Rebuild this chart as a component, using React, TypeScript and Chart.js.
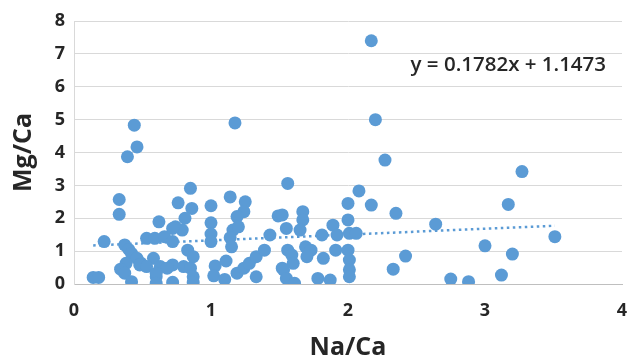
import React, { useEffect, useRef } from "react";
import { Chart, registerables } from "chart.js";

Chart.register(...registerables);

// Na/Ca (x) values
const naCa: number[] = [
  0.14, 0.18, 0.22, 0.33, 0.33, 0.39, 0.46, 0.44,
  0.37, 0.40, 0.42, 0.46, 0.38, 0.34, 0.37, 0.42, 0.49, 0.48,
  0.53, 0.59, 0.66, 0.72, 0.62, 0.76, 0.85, 0.86, 0.81, 0.74, 0.79, 0.72,
  0.83, 0.87, 0.58, 0.53, 0.63, 0.72, 0.80, 0.85, 0.68,
  0.60, 0.60, 0.72, 0.60, 0.87, 0.87,
  1.00, 1.00, 1.00, 1.00, 1.03, 1.02, 1.10,
  1.14, 1.25, 1.24, 1.19, 1.175, 1.16, 1.20, 1.14, 1.15, 1.11, 1.19, 1.24, 1.28, 1.33, 1.39, 1.43, 1.49, 1.33, 1.52, 1.56, 1.56, 1.55, 1.52,
  1.67, 1.67, 1.65, 1.89, 2.00, 1.81, 1.92, 2.01, 1.59, 1.69, 1.73, 1.82, 1.91, 2.00, 2.01, 2.01, 2.01, 1.70, 1.60, 1.53, 1.55, 1.61, 1.78, 1.87, 2.08, 2.00, 2.06,
  2.17, 2.20, 2.27, 2.17, 2.35, 2.42, 2.33, 2.64, 2.75, 2.88, 3.00, 3.12, 3.17, 3.20, 3.27, 3.51,
];

// Mg/Ca (y) values
const mgCa: number[] = [
  0.20, 0.20, 1.29, 2.57, 2.12, 3.87, 4.17, 4.83,
  1.19, 1.05, 0.93, 0.78, 0.63, 0.45, 0.33, 0.07, 0.63, 0.58,
  1.39, 1.39, 1.44, 1.29, 1.89, 2.47, 2.91, 2.30, 2.00, 1.74, 1.64, 1.69,
  1.03, 0.83, 0.78, 0.53, 0.53, 0.58, 0.53, 0.48, 0.48,
  0.22, 0.33, 0.05, 0.02, 0.22, 0.05,
  2.38, 1.86, 1.52, 1.29, 0.55, 0.25, 0.14,
  2.65, 2.50, 2.20, 2.05, 4.90, 1.64, 1.74, 1.41, 1.13, 0.70, 0.33, 0.48, 0.63, 0.83, 1.03, 1.49, 2.07, 0.22, 0.48, 1.03, 3.06, 1.69, 2.10,
  2.20, 1.95, 1.64, 1.79, 1.95, 1.49, 1.49, 1.54, 0.88, 1.13, 1.03, 0.78, 1.03, 1.03, 0.73, 0.43, 0.22, 0.83, 0.63, 0.43, 0.17, 0.02, 0.17, 0.12, 2.83, 2.45, 1.54,
  7.40, 5.00, 3.77, 2.40, 2.15, 0.85, 0.45, 1.82, 0.15, 0.07, 1.16, 0.27, 2.42, 0.91, 3.42, 1.44,
];

// Linear trendline shown on the chart
const TREND_SLOPE = 0.1782;
const TREND_INTERCEPT = 1.1473;
const TREND_LABEL = "y = 0.1782x + 1.1473";

const xTicks: number[] = [0, 1, 2, 3, 4];
const yTicks: number[] = [0, 1, 2, 3, 4, 5, 6, 7, 8];

const X_TITLE = "Na/Ca";
const Y_TITLE = "Mg/Ca";

const BLUE = "#5b9bd5";
const FONT = '"Open Sans", "Liberation Sans", Arial, sans-serif';

export default function App() {
  const ref = useRef<HTMLCanvasElement | null>(null);

  useEffect(() => {
    document.body.style.margin = "0";
    const canvas = ref.current;
    if (!canvas) return;

    const points = naCa.map((x, i) => ({ x, y: mgCa[i] }));
    const xMin = Math.min(...naCa);
    const xMax = Math.max(...naCa);
    const trend = [
      { x: xMin, y: TREND_SLOPE * xMin + TREND_INTERCEPT },
      { x: xMax, y: TREND_SLOPE * xMax + TREND_INTERCEPT },
    ];

    const eqPlugin = {
      id: "eqLabel",
      afterDatasetsDraw(chart: any) {
        const { ctx, scales } = chart;
        const px = scales.x.getPixelForValue(3.17);
        const py = scales.y.getPixelForValue(6.66);
        ctx.save();
        ctx.font = `600 20.5px ${FONT}`;
        ctx.fillStyle = "#262626";
        ctx.textAlign = "center";
        ctx.textBaseline = "middle";
        ctx.fillText(TREND_LABEL, px, py);
        ctx.restore();
      },
    };

    const chart = new Chart(canvas, {
      type: "scatter",
      data: {
        datasets: [
          {
            label: "Trend",
            type: "line" as any,
            data: trend,
            borderColor: BLUE,
            borderWidth: 2.5,
            borderDash: [2.5, 3.5],
            pointRadius: 0,
            fill: false,
            order: 2,
          } as any,
          {
            label: "Mg/Ca",
            data: points,
            backgroundColor: BLUE,
            borderWidth: 0,
            pointRadius: 6.5,
            pointHoverRadius: 6.5,
            order: 1,
          },
        ],
      },
      options: {
        responsive: false,
        animation: false,
        devicePixelRatio: 1,
        layout: { autoPadding: false, padding: { top: 21, right: 5, bottom: 0, left: 0 } },
        plugins: {
          legend: { display: false },
          tooltip: { enabled: false },
        },
        scales: {
          x: {
            type: "linear",
            min: 0,
            max: 4,
            afterBuildTicks: (s: any) => {
              s.ticks = xTicks.map((v) => ({ value: v }));
            },
            afterFit: (s: any) => {
              s.height = 76;
              s.paddingLeft = 0;
              s.paddingRight = 0;
            },
            grid: { display: false, drawTicks: false },
            border: { display: true, color: "#bfbfbf", width: 1 },
            ticks: {
              padding: 16,
              color: "#262626",
              font: { family: FONT, size: 18, weight: "bold" },
            },
            title: {
              display: true,
              text: X_TITLE,
              color: "#262626",
              padding: { top: 0, bottom: 0 },
              font: { family: FONT, size: 25, weight: "bold", lineHeight: 1 },
            },
          },
          y: {
            type: "linear",
            min: 0,
            max: 8,
            afterBuildTicks: (s: any) => {
              s.ticks = yTicks.map((v) => ({ value: v }));
            },
            afterFit: (s: any) => {
              s.width = 74;
              s.paddingTop = 0;
              s.paddingBottom = 0;
            },
            grid: { color: "#d9d9d9", lineWidth: 1, drawTicks: false },
            border: { display: true, color: "#d9d9d9", width: 1 },
            ticks: {
              padding: 9,
              color: "#262626",
              font: { family: FONT, size: 18, weight: "bold" },
            },
            title: {
              display: true,
              text: Y_TITLE,
              color: "#262626",
              padding: { top: 11, bottom: 0 },
              font: { family: FONT, size: 25, weight: "bold", lineHeight: 1 },
            },
          },
        },
      },
      plugins: [eqPlugin],
    });

    return () => chart.destroy();
  }, []);

  return <canvas ref={ref} width={627} height={360} style={{ display: "block" }} />;
}
